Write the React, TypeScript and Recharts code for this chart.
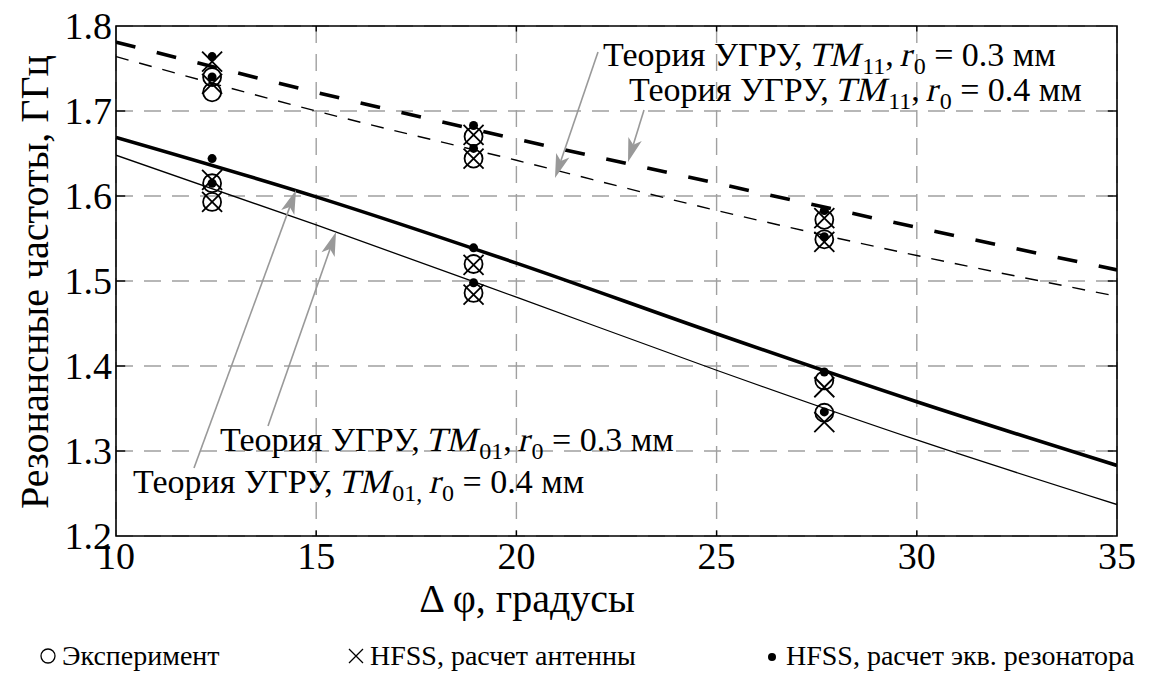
import React from 'react'
import {
  ComposedChart,
  Line,
  Scatter,
  XAxis,
  YAxis,
  CartesianGrid,
  ReferenceArea,
  ReferenceLine,
} from 'recharts'

// theory curves (УГРУ), sampled along the angle axis
const thetaGrid = [10, 15, 20, 25, 30, 35]
const theoryTM11r03 = [1.781, 1.722, 1.667, 1.615, 1.563, 1.513]
const theoryTM11r04 = [1.764, 1.7, 1.642, 1.583, 1.53, 1.482]
const theoryTM01r03 = [1.669, 1.599, 1.521, 1.438, 1.358, 1.283]
const theoryTM01r04 = [1.648, 1.566, 1.481, 1.395, 1.313, 1.237]

// measured / simulated points, one value per angle
const angles = [12.4, 18.93, 27.69]
const expTM11r03 = [1.74, 1.67, 1.572]
const expTM11r04 = [1.722, 1.644, 1.549]
const expTM01r03 = [1.615, 1.52, 1.383]
const expTM01r04 = [1.593, 1.486, 1.345]
const antTM11r03 = [1.758, 1.672, 1.574]
const antTM11r04 = [1.732, 1.644, 1.546]
const antTM01r03 = [1.619, 1.519, 1.375]
const antTM01r04 = [1.593, 1.484, 1.334]
const resTM11r03 = [1.764, 1.683, 1.583]
const resTM11r04 = [1.74, 1.656, 1.552]
const resTM01r03 = [1.644, 1.539, 1.393]
const resTM01r04 = [1.615, 1.498, 1.346]

const xTicks = [10, 15, 20, 25, 30, 35]
const yTicks = [1.2, 1.3, 1.4, 1.5, 1.6, 1.7, 1.8]

const FONT = 'Liberation Serif'

const lineTable = thetaGrid.map((x, i) => ({
  x,
  tm11a: theoryTM11r03[i],
  tm11b: theoryTM11r04[i],
  tm01a: theoryTM01r03[i],
  tm01b: theoryTM01r04[i],
}))

const toPoints = (lists: number[][]) =>
  angles.flatMap((x, i) => lists.map((l) => ({ x, y: l[i] })))

const expPoints = toPoints([expTM11r03, expTM11r04, expTM01r03, expTM01r04])
const antPoints = toPoints([antTM11r03, antTM11r04, antTM01r03, antTM01r04])
const resPoints = toPoints([resTM11r03, resTM11r04, resTM01r03, resTM01r04])

const CircleMark = (p: any) => (
  <circle cx={p.cx} cy={p.cy} r={9} fill="none" stroke="#000" strokeWidth={1.8} />
)
const CrossMark = (p: any) => {
  const { cx, cy } = p
  const s = 10
  return (
    <path
      d={`M${cx - s},${cy - s}L${cx + s},${cy + s}M${cx - s},${cy + s}L${cx + s},${cy - s}`}
      stroke="#000"
      strokeWidth={1.8}
    />
  )
}
const DotMark = (p: any) => <circle cx={p.cx} cy={p.cy} r={4.5} fill="#000" />

function Arrow({ x1, y1, x2, y2 }: { x1: number; y1: number; x2: number; y2: number }) {
  const dx = x2 - x1
  const dy = y2 - y1
  const len = Math.hypot(dx, dy)
  const ux = dx / len
  const uy = dy / len
  const hl = 24
  const hw = 7
  const bx = x2 - ux * hl
  const by = y2 - uy * hl
  const nx = x2 - ux * hl * 0.75
  const ny = y2 - uy * hl * 0.75
  return (
    <g>
      <line x1={x1} y1={y1} x2={nx} y2={ny} stroke="#999" strokeWidth={1.6} />
      <polygon
        points={`${x2},${y2} ${bx - uy * hw},${by + ux * hw} ${nx},${ny} ${bx + uy * hw},${by - ux * hw}`}
        fill="#999"
      />
    </g>
  )
}

const slant: React.CSSProperties = { display: 'inline-block', transform: 'skewX(-13deg)' }
const sub: React.CSSProperties = { fontSize: 24, position: 'relative', top: 8 }

function Label({ left, baseline, mode, r, commaSub }: { left: number; baseline: number; mode: string; r: string; commaSub?: boolean }) {
  return (
    <div
      style={{
        position: 'absolute',
        left,
        top: baseline - 28.5,
        fontSize: 34,
        lineHeight: '34px',
        whiteSpace: 'pre',
        fontFamily: FONT,
        color: '#000',
      }}
    >
      {'Теория УГРУ, '}
      <span style={slant}>TM</span>
      <span style={sub}>{commaSub ? mode + ',' : mode}</span>
      {commaSub ? ' ' : ', '}
      <span style={slant}>r</span>
      <span style={sub}>0</span>
      {' = ' + r + ' мм'}
    </div>
  )
}

const legendItems = [
  { left: 38, mark: 'circle', text: 'Эксперимент' },
  { left: 346, mark: 'cross', text: 'HFSS, расчет антенны' },
  { left: 762, mark: 'dot', text: 'HFSS, расчет экв. резонатора' },
]

function LegendMark({ kind }: { kind: string }) {
  return (
    <svg width={20} height={20} style={{ marginRight: 4, verticalAlign: '-1px' }}>
      {kind === 'circle' && <circle cx={10} cy={10} r={7} fill="none" stroke="#000" strokeWidth={1.3} />}
      {kind === 'cross' && <path d="M3,3L17,17M3,17L17,3" stroke="#000" strokeWidth={1.3} />}
      {kind === 'dot' && <circle cx={10} cy={11} r={4} fill="#000" />}
    </svg>
  )
}

export default function App() {
  return (
    <>
      {/* in-flow text in the serif face, hidden under the chart, so the face is in use from the start */}
      <div style={{ fontFamily: FONT, fontSize: 12, color: '#fff' }}>.</div>
      <div style={{ position: 'absolute', left: 0, top: 0, width: 1150, height: 675, background: '#fff', fontFamily: FONT }}>
        <ComposedChart
          width={1150}
          height={675}
          data={lineTable}
          margin={{ top: 26, right: 33, left: 16, bottom: 79 }}
        >
          <CartesianGrid stroke="#a0a0a0" strokeWidth={1.4} strokeDasharray="17 11" />
          <XAxis
            dataKey="x"
            type="number"
            domain={[10, 35]}
            ticks={xTicks}
            allowDataOverflow
            axisLine={false}
            tickLine={false}
            tickSize={0}
            tickMargin={6}
            height={60}
            tick={{ fontSize: 38, fill: '#000', fontFamily: FONT }}
          />
          <YAxis
            type="number"
            domain={[1.2, 1.8]}
            ticks={yTicks}
            allowDataOverflow
            axisLine={false}
            tickLine={false}
            tickSize={0}
            tickMargin={4}
            width={100}
            tickFormatter={(v: number) => v.toFixed(1)}
            tick={{ fontSize: 38, fill: '#000', fontFamily: FONT }}
          />
          {yTicks.slice(1, -1).map((v) => (
            <ReferenceLine key={'yl' + v} segment={[{ x: 10, y: v }, { x: 10.23, y: v }]} stroke="#000" strokeWidth={1.4} />
          ))}
          {yTicks.slice(1, -1).map((v) => (
            <ReferenceLine key={'yr' + v} segment={[{ x: 34.77, y: v }, { x: 35, y: v }]} stroke="#000" strokeWidth={1.4} />
          ))}
          {xTicks.slice(1, -1).map((t) => (
            <ReferenceLine key={'xb' + t} segment={[{ x: t, y: 1.2 }, { x: t, y: 1.2065 }]} stroke="#000" strokeWidth={1.4} />
          ))}
          {xTicks.slice(1, -1).map((t) => (
            <ReferenceLine key={'xt' + t} segment={[{ x: t, y: 1.7935 }, { x: t, y: 1.8 }]} stroke="#000" strokeWidth={1.4} />
          ))}
          <Line type="monotone" dataKey="tm11a" stroke="#000" strokeWidth={3.6} strokeDasharray="20 22" dot={false} isAnimationActive={false} />
          <Line type="monotone" dataKey="tm11b" stroke="#000" strokeWidth={1.4} strokeDasharray="13 11" dot={false} isAnimationActive={false} />
          <Line type="monotone" dataKey="tm01a" stroke="#000" strokeWidth={3.6} dot={false} isAnimationActive={false} />
          <Line type="monotone" dataKey="tm01b" stroke="#000" strokeWidth={1.3} dot={false} isAnimationActive={false} />
          <Scatter data={expPoints} dataKey="y" shape={CircleMark} isAnimationActive={false} />
          <Scatter data={antPoints} dataKey="y" shape={CrossMark} isAnimationActive={false} />
          <Scatter data={resPoints} dataKey="y" shape={DotMark} isAnimationActive={false} />
          <ReferenceArea x1={10} x2={35} y1={1.2} y2={1.8} fill="none" stroke="#000" strokeWidth={1.6} ifOverflow="visible" />
        </ComposedChart>

        <svg width={1150} height={675} style={{ position: 'absolute', left: 0, top: 0, pointerEvents: 'none' }}>
          <text
            transform="translate(48,282) rotate(-90)"
            textAnchor="middle"
            fontSize={40}
            fontFamily={FONT}
          >
            Резонансные частоты, ГГц
          </text>
          <text x={527} y={612} textAnchor="middle" fontSize={40} fontFamily={FONT}>
            {'Δ φ, градусы'}
          </text>
          <Arrow x1={598} y1={52} x2={555} y2={178} />
          <Arrow x1={644} y1={110} x2={628} y2={162} />
          <Arrow x1={268} y1={426} x2={336} y2={232} />
          <Arrow x1={194} y1={468} x2={296} y2={190} />
        </svg>

        <Label left={603} baseline={66} mode="11" r="0.3" />
        <Label left={629} baseline={101} mode="11" r="0.4" />
        <Label left={220} baseline={451} mode="01" r="0.3" />
        <Label left={133} baseline={493} mode="01" r="0.4" commaSub />

        {legendItems.map((it) => (
          <div
            key={it.text}
            style={{ position: 'absolute', left: it.left, top: 638, fontSize: 28, fontFamily: FONT, whiteSpace: 'nowrap', lineHeight: '36px' }}
          >
            <LegendMark kind={it.mark} />
            {it.text}
          </div>
        ))}
      </div>
    </>
  )
}
